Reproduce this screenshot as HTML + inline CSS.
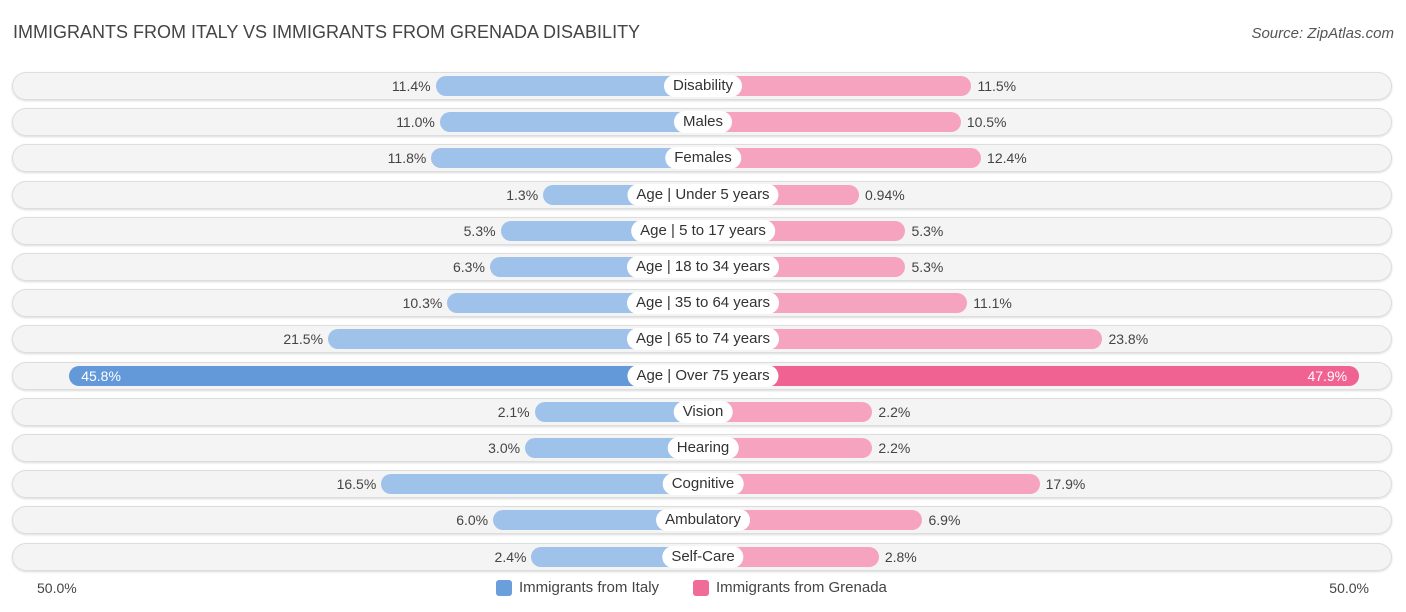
<!DOCTYPE html>
<html><head><meta charset="utf-8"><style>
body{margin:0;width:1406px;height:612px;background:#fff;font-family:"Liberation Sans",sans-serif;position:relative;overflow:hidden}
.t{position:absolute;left:13px;top:22px;font-size:18px;color:#444}
.s{position:absolute;right:12px;top:25px;font-size:15px;color:#555;font-style:italic}
.row{position:absolute;left:12px;width:1380px;height:28px;border-radius:14px;background:#f4f4f4;box-shadow:inset 0 0 0 1px #ddd,0 1px 2px rgba(0,0,0,.15)}
.bar{position:absolute;height:20px;border-radius:10px}
.lab{position:absolute;height:22px;line-height:22px;font-size:15px;color:#333;background:#fff;border-radius:11px;padding:0 9px;transform:translateX(-50%);white-space:nowrap}
.v{position:absolute;font-size:14px;color:#444;line-height:20px}
.ax{position:absolute;top:580px;font-size:14px;color:#444}
.leg{position:absolute;top:579px;font-size:15px;color:#444;display:flex;align-items:center}
.sw{width:16px;height:16px;border-radius:3px;margin-right:7px}
</style></head><body>
<div class="t">IMMIGRANTS FROM ITALY VS IMMIGRANTS FROM GRENADA DISABILITY</div>
<div class="s">Source: ZipAtlas.com</div>
<div id="chart"></div>
<div class="ax" style="left:37px">50.0%</div>
<div class="ax" style="right:37px">50.0%</div>
<div class="leg" style="left:496px"><div class="sw" style="background:#6a9fdc"></div>Immigrants from Italy</div>
<div class="leg" style="left:693px"><div class="sw" style="background:#f06b98"></div>Immigrants from Grenada</div>
<script>
const categories=["Disability","Males","Females","Age | Under 5 years","Age | 5 to 17 years","Age | 18 to 34 years","Age | 35 to 64 years","Age | 65 to 74 years","Age | Over 75 years","Vision","Hearing","Cognitive","Ambulatory","Self-Care"];
const italy=[11.4,11.0,11.8,1.3,5.3,6.3,10.3,21.5,45.8,2.1,3.0,16.5,6.0,2.4];
const grenada=[11.5,10.5,12.4,0.94,5.3,5.3,11.1,23.8,47.9,2.2,2.2,17.9,6.9,2.8];
const italyLabels=["11.4%","11.0%","11.8%","1.3%","5.3%","6.3%","10.3%","21.5%","45.8%","2.1%","3.0%","16.5%","6.0%","2.4%"];
const grenadaLabels=["11.5%","10.5%","12.4%","0.94%","5.3%","5.3%","11.1%","23.8%","47.9%","2.2%","2.2%","17.9%","6.9%","2.8%"];
const cx=703,top0=86,step=36.2;
function w(v){return 146+10.65*v;}
function y(i){return top0+i*step;}
const c=document.getElementById('chart');
categories.forEach((cat,i)=>{
 const yc=y(i);
 const r=document.createElement('div');r.className='row';r.style.top=(yc-14)+'px';
 
 
 c.appendChild(r);
 const big=italy[i]>40, bigG=grenada[i]>40;
 const a=document.createElement('div');a.className='bar';
 const wa=w(italy[i]);a.style.left=(cx-wa)+'px';a.style.width=wa+'px';a.style.top=(yc-10)+'px';
 a.style.background=big?'#6399d8':'#9fc2ea';a.style.borderRadius='10px 0 0 10px';
 
 
 c.appendChild(a);
 const b=document.createElement('div');b.className='bar';
 const wb=w(grenada[i]);b.style.left=cx+'px';b.style.width=wb+'px';b.style.top=(yc-10)+'px';
 b.style.background=bigG?'#f06292':'#f5a3bf';b.style.borderRadius='0 10px 10px 0';
 
 
 c.appendChild(b);
 const l=document.createElement('div');l.className='lab';l.textContent=cat;l.style.left=cx+'px';l.style.top=(yc-11)+'px';
 
 
 c.appendChild(l);
 const va=document.createElement('div');va.className='v';va.textContent=italyLabels[i];va.style.top=(yc-10)+'px';
 if(big){va.style.left=(cx-wa+12)+'px';va.style.color='#fff';}else{va.style.right=(1406-(cx-wa)+5)+'px';}
 
 
 c.appendChild(va);
 const vb=document.createElement('div');vb.className='v';vb.textContent=grenadaLabels[i];vb.style.top=(yc-10)+'px';
 if(bigG){vb.style.right=(1406-(cx+wb)+12)+'px';vb.style.color='#fff';}else{vb.style.left=(cx+wb+6)+'px';}
 
 
 c.appendChild(vb);
});
</script>
</body></html>
